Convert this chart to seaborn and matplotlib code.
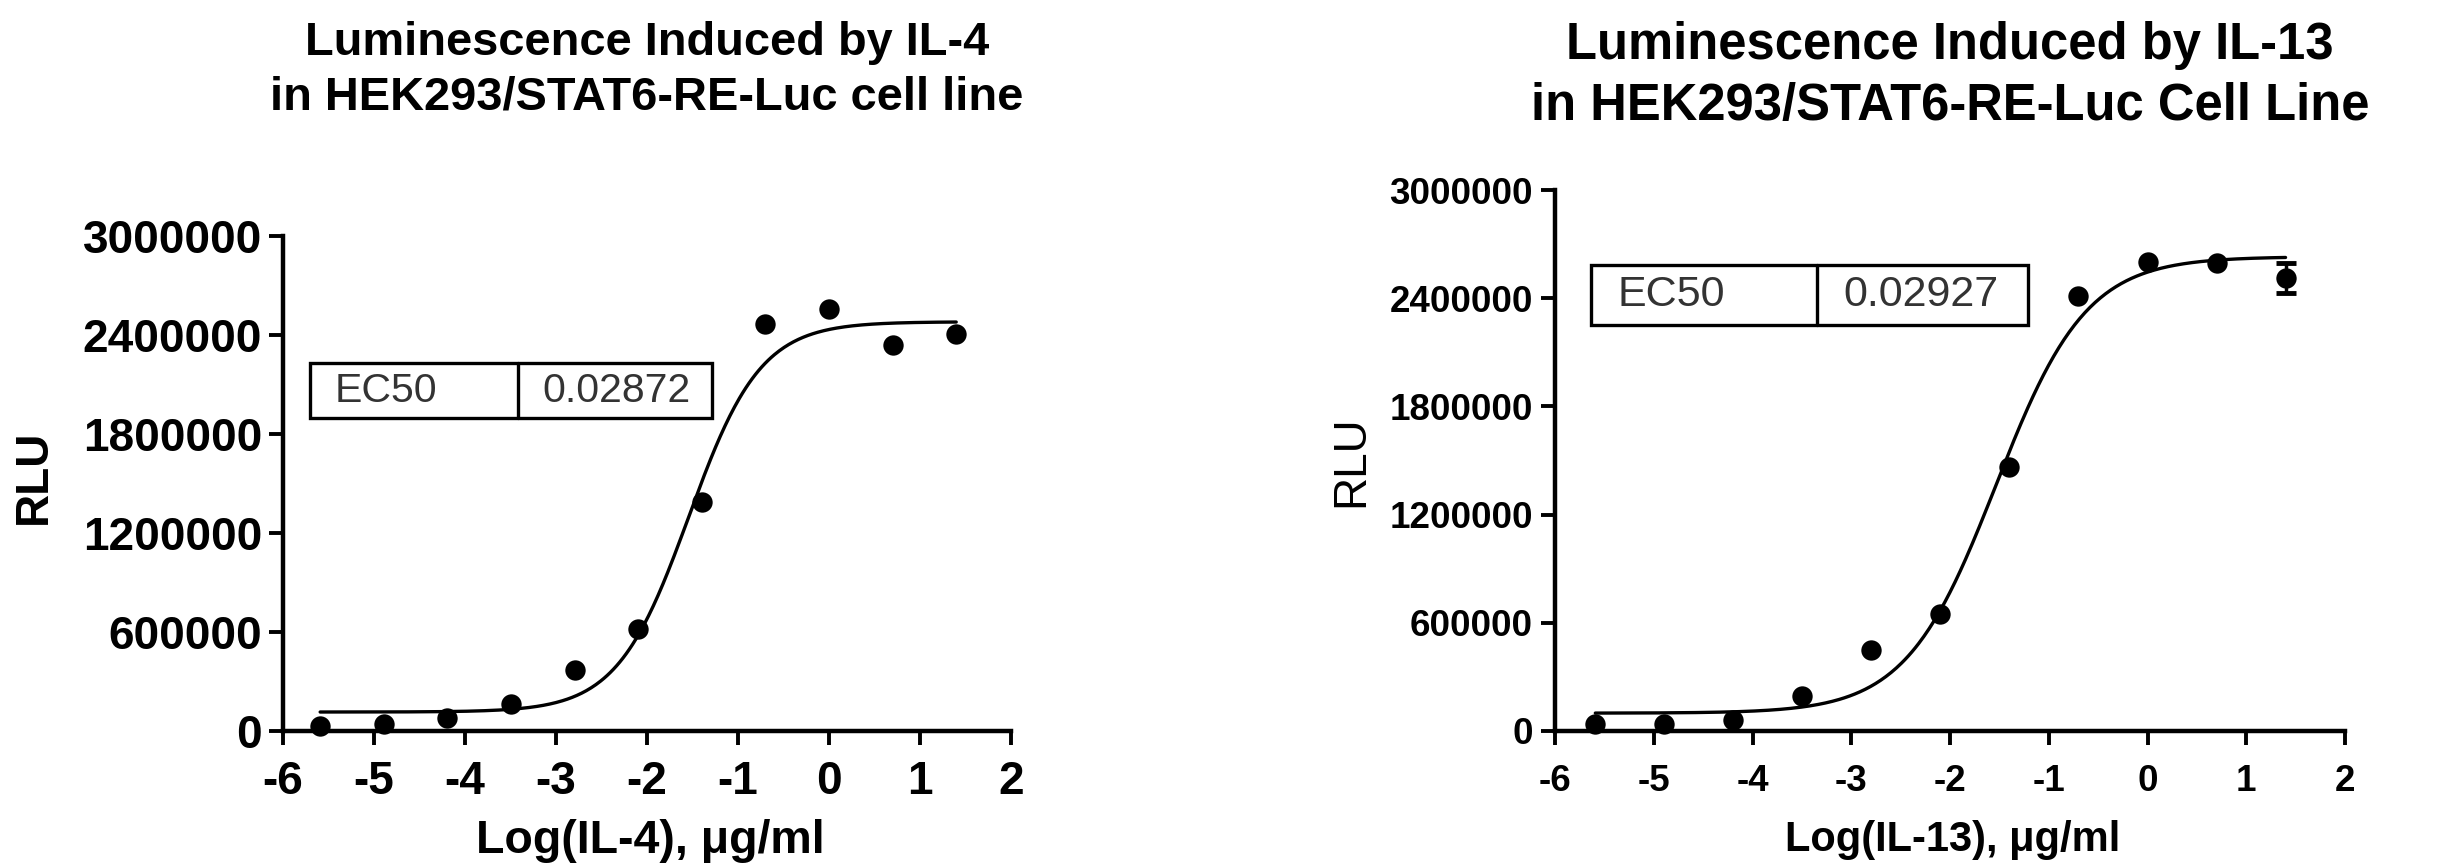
import numpy as np
import pandas as pd
import matplotlib
matplotlib.use("Agg")
import matplotlib.pyplot as plt
import seaborn as sns
from matplotlib.patches import Rectangle
from matplotlib.lines import Line2D

# ---------------- data ----------------
conc_ugml = [2.56e-6, 1.28e-5, 6.4e-5, 3.2e-4, 1.6e-3, 8e-3, 0.04, 0.2, 1.0, 5.0, 25.0]
il4_rlu = [32000, 43000, 76000, 162000, 368000, 617000, 1386000, 2469000, 2556000, 2339000, 2404000]
il13_rlu = [37000, 40000, 62000, 195000, 450000, 648000, 1462000, 2410000, 2598000, 2595000, 2514000]
il13_sd = [0, 0, 0, 0, 0, 0, 0, 0, 0, 0, 83000]

# 4-parameter logistic fit parameters
il4_bottom, il4_top, il4_ec50, il4_hill = 115000, 2480000, 0.02872, 1.10
il13_bottom, il13_top, il13_ec50, il13_hill = 99000, 2630000, 0.02927, 0.95

x_ticks = [-6, -5, -4, -3, -2, -1, 0, 1, 2]
y_ticks = [0, 600000, 1200000, 1800000, 2400000, 3000000]

titles = [("Luminescence Induced by IL-4", "in HEK293/STAT6-RE-Luc cell line"),
          ("Luminescence Induced by IL-13", "in HEK293/STAT6-RE-Luc Cell Line")]
xlabels = ["Log(IL-4), \u03bcg/ml", "Log(IL-13), \u03bcg/ml"]
ec50_labels = ["0.02872", "0.02927"]

# ---------------- style ----------------
sns.set_style("ticks")
plt.rcParams['font.family'] = ['Liberation Sans', 'DejaVu Sans']
plt.rcParams['text.color'] = 'black'
plt.rcParams['axes.labelcolor'] = 'black'
plt.rcParams['xtick.color'] = 'black'
plt.rcParams['ytick.color'] = 'black'

W, H = 2441, 865
fig = plt.figure(figsize=(W / 100, H / 100), dpi=100)
fig.patch.set_facecolor("white")


def px_axes(x0, x1, y0, y1):
    return fig.add_axes([x0 / W, 1 - y1 / H, (x1 - x0) / W, (y1 - y0) / H])


ax1 = px_axes(283, 1011, 236, 731)
ax2 = px_axes(1555, 2345, 190, 731)

logx = np.log10(np.array(conc_ugml))


def four_pl(x, bottom, top, ec50, hill):
    return bottom + (top - bottom) / (1 + 10 ** ((np.log10(ec50) - x) * hill))


configs = [
    dict(ax=ax1, y=il4_rlu, sd=None, fit=(il4_bottom, il4_top, il4_ec50, il4_hill),
         tick_fs=33, xpad=11, ypad=5, xlab_fs=33.5, ylab_fs=33, ylab_w='bold', title_fs=33.8,
         ylab_pos=(-0.342, 0.513), xlab_pos=(0.505, -0.246),
         box=(0.0371, 0.5886, 0.3224, 0.632, 0.743), txt=(0.0709, 0.3558), box_fs=29.5,
         title_x=647, title_y=(55, 110)),
    dict(ax=ax2, y=il13_rlu, sd=il13_sd, fit=(il13_bottom, il13_top, il13_ec50, il13_hill),
         tick_fs=26.5, xpad=14, ypad=6, xlab_fs=30, ylab_fs=33, ylab_w='normal', title_fs=36.5,
         ylab_pos=(-0.258, 0.499), xlab_pos=(0.504, -0.221),
         box=(0.0456, 0.5987, 0.3316, 0.750, 0.861), txt=(0.0797, 0.3646), box_fs=31,
         title_x=1950, title_y=(59, 120)),
]

for i, c in enumerate(configs):
    ax = c['ax']
    df = pd.DataFrame({"logc": logx, "rlu": c['y']})
    xs = np.linspace(logx.min(), logx.max(), 400)
    fit_df = pd.DataFrame({"logc": xs, "rlu": four_pl(xs, *c['fit'])})

    sns.lineplot(data=fit_df, x="logc", y="rlu", ax=ax, color="black", lw=2.4, zorder=2)
    if c['sd'] is not None:
        sd = np.array(c['sd'])
        m = sd > 0
        ax.errorbar(logx[m], np.array(c['y'])[m], yerr=sd[m], fmt='none', ecolor='black',
                    elinewidth=2.5, capsize=7, capthick=3.5, zorder=3, clip_on=False)
    sns.scatterplot(data=df, x="logc", y="rlu", ax=ax, color="black", s=215,
                    edgecolor="black", linewidth=0, zorder=4, clip_on=False)

    ax.set_xlim(-6, 2)
    ax.set_ylim(0, 3000000)
    ax.set_xticks(x_ticks)
    ax.set_xticklabels([str(t) for t in x_ticks], fontweight='bold', fontsize=c['tick_fs'])
    ax.set_yticks(y_ticks)
    ax.set_yticklabels([str(t) for t in y_ticks], fontweight='bold', fontsize=c['tick_fs'])
    ax.tick_params(direction='out', length=10, width=2.8, colors='black')
    ax.tick_params(axis='x', pad=c['xpad'])
    ax.tick_params(axis='y', pad=c['ypad'])
    sns.despine(ax=ax)
    for s in ('left', 'bottom'):
        ax.spines[s].set_linewidth(3.2)
        ax.spines[s].set_color('black')

    ax.set_xlabel(xlabels[i], fontsize=c['xlab_fs'], fontweight='bold', va='baseline')
    ax.xaxis.set_label_coords(*c['xlab_pos'])
    ax.set_ylabel("RLU", fontsize=c['ylab_fs'], fontweight=c['ylab_w'], va='center')
    ax.yaxis.set_label_coords(*c['ylab_pos'])

    # EC50 box
    x0, x1, xd, y0, y1 = c['box']
    ax.add_patch(Rectangle((x0, y0), x1 - x0, y1 - y0, transform=ax.transAxes,
                           fill=False, edgecolor='black', lw=2.4, zorder=5, clip_on=False))
    ax.add_line(Line2D([xd, xd], [y0, y1], transform=ax.transAxes, color='black',
                       lw=2.4, zorder=5, clip_on=False))
    ym = (y0 + y1) / 2
    ax.text(c['txt'][0], ym, "EC50", transform=ax.transAxes, ha='left', va='center',
            fontsize=c['box_fs'], color='#333333', zorder=6)
    ax.text(c['txt'][1], ym, ec50_labels[i], transform=ax.transAxes, ha='left', va='center',
            fontsize=c['box_fs'], color='#333333', zorder=6)

    # titles
    for line, yb in zip(titles[i], c['title_y']):
        fig.text(c['title_x'] / W, 1 - yb / H, line, ha='center', va='baseline',
                 fontsize=c['title_fs'], fontweight='bold', color='black')

fig.savefig("out.png", dpi=100, facecolor="white")
